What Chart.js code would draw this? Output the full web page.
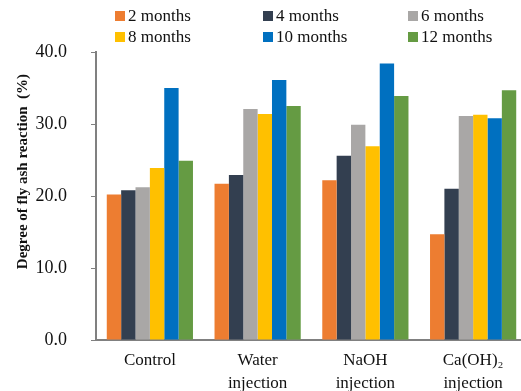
<!DOCTYPE html>
<html lang="en">
<head>
  <meta charset="UTF-8" />
  <title>Degree of fly ash reaction</title>
  <script src="https://cdn.jsdelivr.net/npm/chart.js"></script>
  <style>
    body { margin:0; background:#fff; overflow:hidden; }
    .wrap { position:relative; width:521px; height:391px; overflow:hidden; }
    canvas { position:absolute; left:0; top:0; }
    .legend { position:absolute; left:0; top:0; width:521px; height:50px; font-family:'Liberation Serif','Times New Roman',serif; font-size:17px; color:#111; }
    .legend span { position:absolute; white-space:nowrap; line-height:20px; }
    .legend i { display:inline-block; width:10px; height:10px; margin-right:3px; vertical-align:0px; }
  </style>
</head>
<body>
  <div class="wrap">
    <canvas id="chart" width="530" height="391"></canvas>
    <div class="legend" id="legend"></div>
  </div>

  <script>
    const categories = ['Control', ['Water', 'injection'], ['NaOH', 'injection'], ['Ca(OH)\u2082', 'injection']];
    const seriesNames = ['2 months', '4 months', '6 months', '8 months', '10 months', '12 months'];
    const colors = ['#ED7D31', '#333F50', '#A9A7A6', '#FFC000', '#0070C0', '#659B43'];

    const months2  = [20.2, 21.7, 22.2, 14.7];
    const months4  = [20.8, 22.9, 25.6, 21.0];
    const months6  = [21.2, 32.1, 29.9, 31.1];
    const months8  = [23.9, 31.4, 26.9, 31.3];
    const months10 = [35.0, 36.1, 38.4, 30.8];
    const months12 = [24.9, 32.5, 33.9, 34.7];
    const yTicks = [0, 10, 20, 30, 40];
    const yTitle = 'Degree of fly ash reaction  (%)';

    const allSeries = [months2, months4, months6, months8, months10, months12];
    const serif = "'Liberation Serif','Times New Roman',serif";

    // legend in 3 columns, like the original
    const legendPos = [[115, 6], [263, 6], [408, 6], [115, 27], [263, 27], [408, 27]];
    const legend = document.getElementById('legend');
    seriesNames.forEach((name, i) => {
      const s = document.createElement('span');
      s.style.left = legendPos[i][0] + 'px';
      s.style.top = legendPos[i][1] + 'px';
      s.innerHTML = `<i style="background:${colors[i]}"></i>${name}`;
      legend.appendChild(s);
    });

    // y title sits a bit above the middle of the axis in the original
    const yTitlePlugin = {
      id: 'yTitle',
      afterDraw(chart) {
        const { ctx, chartArea } = chart;
        const cy = chartArea.top + (chartArea.bottom - chartArea.top) * 0.415;
        ctx.save();
        ctx.translate(23, cy);
        ctx.rotate(-Math.PI / 2);
        ctx.font = `bold 15px ${serif}`;
        ctx.fillStyle = '#111';
        ctx.textAlign = 'center';
        ctx.textBaseline = 'middle';
        ctx.fillText(yTitle, 0, 0);
        ctx.restore();
      }
    };

    new Chart(document.getElementById('chart'), {
      type: 'bar',
      data: {
        labels: categories,
        datasets: allSeries.map((d, i) => ({
          label: seriesNames[i],
          data: d,
          backgroundColor: colors[i],
          borderWidth: 0,
          categoryPercentage: 0.8,
          barPercentage: 1.0
        }))
      },
      options: {
        responsive: false,
        animation: false,
        layout: { padding: { top: 52, left: 12, right: 3, bottom: 0 } },
        plugins: { legend: { display: false }, tooltip: { enabled: false } },
        scales: {
          x: {
            grid: { display: false, drawTicks: false, tickLength: 0 },
            border: { display: true, color: '#808080', width: 2 },
            ticks: { color: '#111', font: { family: serif, size: 17, lineHeight: 1.35 }, padding: 9, maxRotation: 0 },
            afterFit: axis => { axis.height = 51; }
          },
          y: {
            min: yTicks[0],
            max: yTicks[yTicks.length - 1],
            afterBuildTicks: axis => { axis.ticks = yTicks.map(v => ({ value: v })); },
            grid: { drawOnChartArea: false, tickLength: 5, color: '#808080' },
            border: { display: true, color: '#808080', width: 2 },
            ticks: { color: '#111', font: { family: serif, size: 18 }, padding: 24, callback: v => v.toFixed(1) },
            afterFit: axis => { axis.width = 84; }
          }
        }
      },
      plugins: [yTitlePlugin]
    });
  </script>
</body>
</html>
